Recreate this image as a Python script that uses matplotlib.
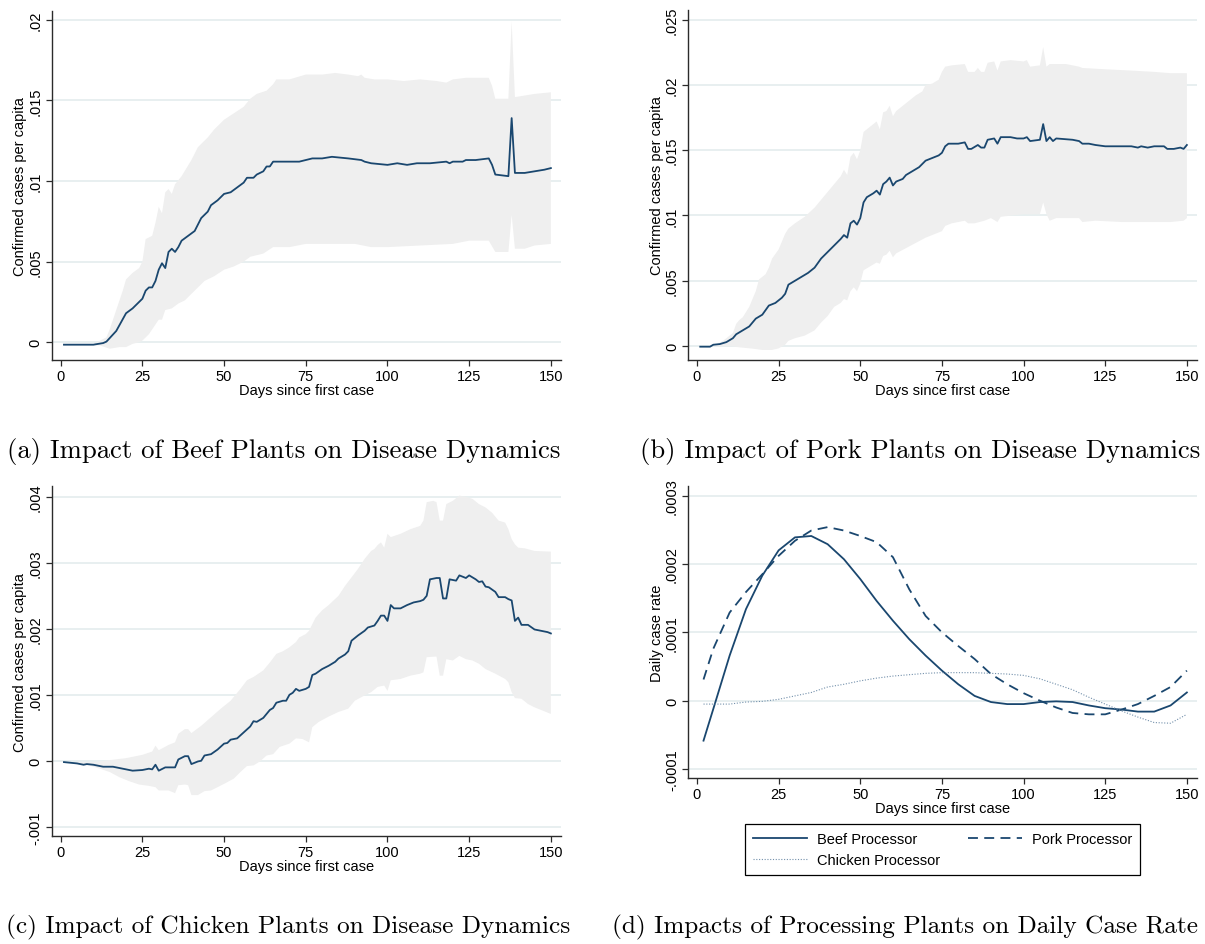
import matplotlib
matplotlib.use("Agg")
import matplotlib.pyplot as plt
import numpy as np

# ---- data -------------------------------------------------------------
days_ticks = [0, 25, 50, 75, 100, 125, 150]

# (a) beef plants
a_mean_days = [1, 10, 13, 14, 17, 20, 22, 24, 25, 26,
               27, 28, 29, 30, 31, 32, 33, 34, 35, 36,
               37, 39, 41, 43, 45, 46, 48, 50, 52, 54,
               56, 57, 59, 60, 62, 63, 64, 65, 70, 73,
               75, 77, 80, 83, 88, 92, 93, 95, 100, 103,
               106, 109, 113, 118, 119, 120, 123, 124, 127, 131,
               132, 133, 137, 138, 139, 142, 145, 148, 150]
a_mean = [-0.00015, -0.00015, -0.00005, 0.00004, 0.0007, 0.0018, 0.0021, 0.0025, 0.0027, 0.0032,
          0.0034, 0.0034, 0.0038, 0.0045, 0.0049, 0.0046, 0.0056, 0.0058, 0.0056, 0.0059,
          0.0063, 0.0066, 0.0069, 0.0077, 0.0081, 0.0085, 0.0088, 0.0092, 0.0093, 0.0096,
          0.0099, 0.0102, 0.0102, 0.0104, 0.0106, 0.0109, 0.0109, 0.0112, 0.0112, 0.0112,
          0.0113, 0.0114, 0.0114, 0.0115, 0.0114, 0.0113, 0.0112, 0.0111, 0.0110, 0.0111,
          0.0110, 0.0111, 0.0111, 0.0112, 0.0111, 0.0112, 0.0112, 0.0113, 0.0113, 0.0114,
          0.0110, 0.0104, 0.0103, 0.0139, 0.0105, 0.0105, 0.0106, 0.0107, 0.0108]
a_up_days = [1, 10, 12, 14, 15, 17, 19, 20, 22, 24,
             25, 26, 28, 29, 30, 31, 32, 33, 34, 35,
             37, 40, 42, 45, 47, 50, 53, 56, 58, 60,
             63, 65, 66, 70, 75, 80, 84, 88, 91, 92,
             93, 96, 100, 105, 110, 115, 118, 120, 124, 131,
             132, 133, 137, 138, 139, 145, 150]
a_up = [-0.0001, -0.0001, 0.0001, 0.0003, 0.0008, 0.0020, 0.0032, 0.0039, 0.0043, 0.0046,
        0.0050, 0.0064, 0.0066, 0.0074, 0.0084, 0.0080, 0.0093, 0.0095, 0.0092, 0.0098,
        0.0103, 0.0113, 0.0121, 0.0127, 0.0132, 0.0138, 0.0142, 0.0146, 0.0151, 0.0154,
        0.0156, 0.0160, 0.0163, 0.0163, 0.0166, 0.0166, 0.0167, 0.0166, 0.0165, 0.0166,
        0.0164, 0.0163, 0.0163, 0.0162, 0.0163, 0.0162, 0.0161, 0.0163, 0.0164, 0.0164,
        0.0159, 0.0151, 0.0151, 0.0199, 0.0152, 0.0154, 0.0155]
a_lo_days = [1, 10, 12, 15, 18, 20, 22, 24, 25, 27,
             29, 30, 31, 32, 34, 36, 38, 40, 42, 44,
             47, 50, 53, 56, 58, 62, 65, 70, 75, 80,
             90, 95, 100, 110, 120, 125, 131, 133, 137, 138,
             139, 142, 145, 150]
a_lo = [-0.0002, -0.0002, -0.0002, -0.0004, -0.0003, -0.0003, -0.0001, 0.0000, 0.0001, 0.0005,
        0.0011, 0.0014, 0.0014, 0.0020, 0.0021, 0.0024, 0.0026, 0.0030, 0.0034, 0.0038,
        0.0041, 0.0045, 0.0047, 0.0050, 0.0053, 0.0055, 0.0059, 0.0059, 0.0061, 0.0061,
        0.0061, 0.0059, 0.0059, 0.0060, 0.0061, 0.0063, 0.0063, 0.0056, 0.0056, 0.0079,
        0.0058, 0.0058, 0.0060, 0.0061]

# (b) pork plants
b_mean_days = [1, 4, 5, 7, 9, 11, 12, 14, 16, 18,
               20, 22, 24, 26, 27, 28, 30, 32, 34, 36,
               38, 40, 42, 44, 45, 46, 47, 48, 49, 50,
               51, 52, 54, 55, 56, 57, 58, 59, 60, 61,
               63, 64, 66, 68, 70, 72, 74, 75, 76, 77,
               80, 82, 83, 84, 86, 87, 88, 89, 91, 92,
               93, 96, 98, 100, 101, 102, 105, 106, 107, 108,
               109, 110, 115, 117, 118, 120, 122, 125, 130, 133,
               135, 136, 138, 140, 143, 144, 146, 148, 149, 150]
b_mean = [-0.00005, -0.00005, 0.0001, 0.00015, 0.0003, 0.0006, 0.0009, 0.0012, 0.0015, 0.0021,
          0.0024, 0.0031, 0.0033, 0.0037, 0.0040, 0.0047, 0.0050, 0.0053, 0.0056, 0.0060,
          0.0067, 0.0072, 0.0077, 0.0082, 0.0085, 0.0083, 0.0094, 0.0096, 0.0093, 0.0098,
          0.0110, 0.0114, 0.0117, 0.0119, 0.0116, 0.0124, 0.0126, 0.0129, 0.0123, 0.0126,
          0.0128, 0.0131, 0.0134, 0.0137, 0.0142, 0.0144, 0.0146, 0.0148, 0.0153, 0.0155,
          0.0155, 0.0156, 0.0151, 0.0151, 0.0154, 0.0152, 0.0152, 0.0158, 0.0159, 0.0155,
          0.0160, 0.0160, 0.0159, 0.0159, 0.0160, 0.0157, 0.0158, 0.0170, 0.0157, 0.0160,
          0.0157, 0.0159, 0.0158, 0.0157, 0.0155, 0.0155, 0.0154, 0.0153, 0.0153, 0.0153,
          0.0152, 0.0153, 0.0152, 0.0153, 0.0153, 0.0151, 0.0151, 0.0152, 0.0151, 0.0154]
b_up_days = [1, 5, 8, 11, 12, 13, 14, 16, 18, 19,
             20, 21, 22, 23, 25, 27, 28, 30, 33, 36,
             39, 42, 44, 45, 46, 47, 48, 49, 50, 51,
             53, 55, 56, 57, 58, 59, 60, 61, 63, 65,
             67, 69, 70, 72, 74, 75, 76, 78, 82, 83,
             85, 86, 87, 88, 89, 91, 92, 93, 96, 100,
             101, 102, 105, 106, 107, 108, 113, 117, 118, 125,
             133, 140, 145, 150]
b_up = [-0.00005, 0.0000, 0.0004, 0.0010, 0.0017, 0.0020, 0.0022, 0.0030, 0.0042, 0.0051,
        0.0053, 0.0055, 0.0060, 0.0067, 0.0074, 0.0086, 0.0090, 0.0094, 0.0099, 0.0106,
        0.0115, 0.0124, 0.0130, 0.0135, 0.0131, 0.0145, 0.0148, 0.0143, 0.0150, 0.0164,
        0.0168, 0.0172, 0.0166, 0.0179, 0.0180, 0.0184, 0.0176, 0.0180, 0.0184, 0.0188,
        0.0192, 0.0195, 0.0200, 0.0201, 0.0204, 0.0210, 0.0214, 0.0215, 0.0216, 0.0210,
        0.0210, 0.0213, 0.0210, 0.0210, 0.0217, 0.0218, 0.0211, 0.0218, 0.0219, 0.0218,
        0.0219, 0.0214, 0.0215, 0.0229, 0.0214, 0.0216, 0.0216, 0.0214, 0.0213, 0.0212,
        0.0211, 0.0210, 0.0209, 0.0209]
b_lo_days = [1, 5, 10, 13, 17, 20, 23, 25, 27, 28,
             30, 33, 36, 38, 40, 42, 44, 45, 46, 47,
             48, 49, 50, 51, 53, 55, 56, 57, 58, 59,
             60, 61, 64, 67, 70, 74, 75, 76, 78, 82,
             83, 85, 88, 90, 92, 93, 100, 105, 106, 107,
             108, 110, 117, 118, 122, 130, 140, 145, 149, 150]
b_lo = [-0.00005, -0.00005, 0.0000, -0.0001, -0.0002, -0.0003, -0.0003, -0.00018, 0.0001, 0.0004,
        0.0006, 0.0008, 0.0012, 0.0018, 0.0023, 0.0030, 0.0033, 0.0036, 0.0035, 0.0042,
        0.0045, 0.0042, 0.0048, 0.0058, 0.0061, 0.0064, 0.0063, 0.0069, 0.0070, 0.0073,
        0.0068, 0.0071, 0.0075, 0.0079, 0.0083, 0.0087, 0.0088, 0.0092, 0.0094, 0.0096,
        0.0094, 0.0094, 0.0096, 0.0098, 0.0095, 0.0099, 0.0101, 0.0101, 0.0110, 0.0101,
        0.0096, 0.0098, 0.0098, 0.0095, 0.0096, 0.0095, 0.0095, 0.0095, 0.0096, 0.0098]

# (c) chicken plants
c_mean_days = [1, 5, 7, 8, 10, 13, 16, 18, 20, 22,
               25, 27, 28, 29, 30, 32, 35, 36, 38, 39,
               40, 42, 43, 44, 46, 48, 50, 51, 52, 54,
               56, 58, 59, 60, 62, 64, 65, 66, 68, 69,
               70, 71, 72, 73, 75, 76, 77, 78, 80, 82,
               84, 85, 87, 88, 89, 91, 93, 94, 96, 97,
               98, 99, 100, 101, 102, 104, 106, 108, 110, 111,
               112, 113, 115, 116, 117, 118, 119, 121, 122, 123,
               124, 125, 127, 128, 129, 130, 131, 133, 134, 136,
               137, 138, 139, 140, 141, 143, 145, 147, 149, 150]
c_mean = [-0.00002, -0.00004, -0.00006, -0.00005, -0.00006, -0.00009, -0.00009, -0.00011, -0.00013, -0.00015,
          -0.00014, -0.00012, -0.00013, -0.00006, -0.00015, -0.00010, -0.00010, 0.00002, 0.00007, 0.00007,
          -0.00005, -0.00001, 0.00000, 0.00008, 0.00010, 0.00017, 0.00026, 0.00027, 0.00032, 0.00034,
          0.00043, 0.00052, 0.00060, 0.00059, 0.00065, 0.00077, 0.00080, 0.00088, 0.00091, 0.00091,
          0.00100, 0.00103, 0.00109, 0.00106, 0.00109, 0.00112, 0.00130, 0.00132, 0.00139, 0.00144,
          0.00150, 0.00155, 0.00161, 0.00166, 0.00182, 0.00190, 0.00197, 0.00202, 0.00205, 0.00212,
          0.00220, 0.00220, 0.00212, 0.00236, 0.00231, 0.00231, 0.00236, 0.00240, 0.00242, 0.00244,
          0.00250, 0.00275, 0.00277, 0.00277, 0.00246, 0.00246, 0.00275, 0.00273, 0.00281, 0.00279,
          0.00277, 0.00281, 0.00275, 0.00271, 0.00272, 0.00264, 0.00263, 0.00256, 0.00248, 0.00248,
          0.00245, 0.00243, 0.00212, 0.00217, 0.00206, 0.00206, 0.00199, 0.00197, 0.00195, 0.00193]
c_up_days = [1, 10, 15, 20, 25, 28, 29, 30, 33, 35,
             36, 38, 39, 40, 43, 46, 49, 52, 55, 57,
             59, 62, 64, 66, 68, 70, 72, 73, 75, 76,
             78, 80, 82, 85, 87, 89, 91, 93, 95, 96,
             97, 98, 99, 100, 101, 104, 107, 110, 111, 112,
             114, 115, 116, 117, 118, 120, 122, 124, 126, 128,
             130, 132, 134, 136, 137, 138, 139, 140, 142, 145,
             150]
c_up = [-0.00002, -0.00002, 0.00001, 0.00004, 0.00009, 0.00014, 0.00023, 0.00016, 0.00024, 0.00028,
        0.00041, 0.00048, 0.00048, 0.00042, 0.00053, 0.00066, 0.00079, 0.00091, 0.00109, 0.00122,
        0.00127, 0.00137, 0.00149, 0.00162, 0.00166, 0.00172, 0.00180, 0.00187, 0.00192, 0.00197,
        0.00217, 0.00228, 0.00236, 0.00250, 0.00265, 0.00278, 0.00291, 0.00306, 0.00318, 0.00321,
        0.00327, 0.00331, 0.00323, 0.00344, 0.00339, 0.00344, 0.00351, 0.00356, 0.00364, 0.00392,
        0.00394, 0.00392, 0.00364, 0.00364, 0.00389, 0.00394, 0.00402, 0.00400, 0.00397, 0.00389,
        0.00384, 0.00376, 0.00364, 0.00361, 0.00351, 0.00336, 0.00328, 0.00323, 0.00322, 0.00318,
        0.00317]
c_lo_days = [1, 8, 12, 15, 18, 21, 24, 27, 29, 30,
             33, 35, 36, 38, 39, 40, 42, 44, 46, 48,
             50, 53, 55, 57, 59, 61, 63, 65, 67, 70,
             72, 74, 76, 77, 79, 82, 85, 88, 90, 93,
             95, 97, 99, 100, 101, 104, 107, 110, 111, 112,
             115, 116, 117, 118, 120, 122, 124, 126, 128, 130,
             133, 136, 137, 138, 139, 141, 143, 145, 148, 150]
c_lo = [-0.00002, -0.00006, -0.00012, -0.00017, -0.00025, -0.00031, -0.00036, -0.00038, -0.00040, -0.00045,
        -0.00045, -0.00049, -0.00037, -0.00036, -0.00037, -0.00052, -0.00052, -0.00046, -0.00045, -0.00040,
        -0.00035, -0.00027, -0.00017, -0.00008, -0.00007, -0.00001, 0.00008, 0.00010, 0.00021, 0.00026,
        0.00034, 0.00033, 0.00028, 0.00051, 0.00059, 0.00067, 0.00074, 0.00079, 0.00091, 0.00099,
        0.00104, 0.00112, 0.00114, 0.00106, 0.00122, 0.00124, 0.00129, 0.00132, 0.00134, 0.00157,
        0.00158, 0.00129, 0.00129, 0.00154, 0.00152, 0.00159, 0.00154, 0.00152, 0.00147, 0.00139,
        0.00132, 0.00124, 0.00119, 0.00104, 0.00095, 0.00094, 0.00086, 0.00081, 0.00075, 0.00071]

# (d) daily case rate by processor type
d_days = [2, 5, 10, 15, 20, 25, 30, 35, 40, 45, 50, 55, 60, 65, 70, 75,
          80, 85, 90, 95, 100, 105, 110, 115, 120, 125, 130, 135, 140, 145, 150]
d_beef = [-0.0000585, -0.000012, 0.000066, 0.000134, 0.000183, 0.000220, 0.000239, 0.000241,
          0.000229, 0.000207, 0.000178, 0.000146, 0.000117, 0.000090, 0.000066, 0.000044,
          0.000024, 0.000007, -0.000002, -0.000005, -0.000005, -0.000002, -0.000001, -0.000002,
          -0.000007, -0.000011, -0.000013, -0.000016, -0.000016, -0.000007, 0.000012]
d_pork = [0.000031, 0.000076, 0.000129, 0.000159, 0.000185, 0.000212, 0.000234, 0.000249,
          0.000254, 0.000249, 0.000241, 0.000232, 0.000210, 0.000163, 0.000124, 0.000100,
          0.000080, 0.000061, 0.000039, 0.000024, 0.000011, 0.000000, -0.000010, -0.000018,
          -0.000020, -0.000020, -0.000013, -0.000005, 0.000007, 0.000020, 0.000044]
d_chicken = [-0.000005, -0.000005, -0.000005, -0.000002, -0.000001, 0.000002, 0.000007, 0.000012,
             0.000020, 0.000024, 0.000029, 0.000033, 0.000036, 0.000038, 0.000040, 0.000041,
             0.000041, 0.000041, 0.000040, 0.000039, 0.000037, 0.000032, 0.000024, 0.000016,
             0.000005, -0.000005, -0.000015, -0.000024, -0.000032, -0.000033, -0.000020]

a_yticks = [0, 0.005, 0.01, 0.015, 0.02]
a_ylabels = ['0', '.005', '.01', '.015', '.02']
b_yticks = [0, 0.005, 0.01, 0.015, 0.02, 0.025]
b_ylabels = ['0', '.005', '.01', '.015', '.02', '.025']
c_yticks = [-0.001, 0, 0.001, 0.002, 0.003, 0.004]
c_ylabels = ['-.001', '0', '.001', '.002', '.003', '.004']
d_yticks = [-0.0001, 0, 0.0001, 0.0002, 0.0003]
d_ylabels = ['-.0001', '0', '.0001', '.0002', '.0003']

captions = ['(a) Impact of Beef Plants on Disease Dynamics',
            '(b) Impact of Pork Plants on Disease Dynamics',
            '(c) Impact of Chicken Plants on Disease Dynamics',
            '(d) Impacts of Processing Plants on Daily Case Rate']

# ---- style ------------------------------------------------------------
NAVY = '#1a476f'
BAND = '#efefef'
GRID = '#e6eeef'
FS = 10.5
plt.rcParams['font.family'] = ['Liberation Sans', 'DejaVu Sans']
plt.rcParams['font.size'] = FS

W, H = 1205, 945
fig = plt.figure(figsize=(W / 100, H / 100), dpi=100)


def px_axes(left, top, right, bottom):
    return fig.add_axes([left / W, 1 - bottom / H, (right - left) / W, (bottom - top) / H])


def style_axes(ax, yticks, ylabels, ylim, ylabel):
    ax.set_xlim(-2.75, 153.1)
    ax.set_ylim(*ylim)
    ax.set_xticks(days_ticks)
    ax.set_yticks(yticks)
    ax.set_yticklabels(ylabels, rotation=90, va='center')
    for s in ['top', 'right']:
        ax.spines[s].set_visible(False)
    for s in ['left', 'bottom']:
        ax.spines[s].set_color('#2b2b2b')
        ax.spines[s].set_linewidth(1.0)
    ax.tick_params(direction='out', length=4, width=0.9, color='#2b2b2b', labelsize=FS, pad=2.5)
    ax.yaxis.grid(True, color=GRID, linewidth=1.3)
    ax.set_axisbelow(True)
    ax.set_xlabel('Days since first case', labelpad=0)
    ax.set_ylabel(ylabel, labelpad=1)


def band_panel(ax, md, m, ud, u, ld, lo):
    xs = np.concatenate([ud, ld[::-1]])
    ys = np.concatenate([u, lo[::-1]])
    ax.fill(xs, ys, color=BAND, linewidth=0, zorder=1)
    ax.plot(md, m, color=NAVY, linewidth=1.3, zorder=3)


ax_a = px_axes(51.7, 11.7, 561, 361)
band_panel(ax_a, a_mean_days, a_mean, a_up_days, a_up, a_lo_days, a_lo)
style_axes(ax_a, a_yticks, a_ylabels, (-0.0011, 0.02056), 'Confirmed cases per capita')

ax_b = px_axes(688, 11, 1197, 361)
band_panel(ax_b, b_mean_days, b_mean, b_up_days, b_up, b_lo_days, b_lo)
style_axes(ax_b, b_yticks, b_ylabels, (-0.00107, 0.02574), 'Confirmed cases per capita')

ax_c = px_axes(51.7, 487.3, 561, 837)
band_panel(ax_c, c_mean_days, c_mean, c_up_days, c_up, c_lo_days, c_lo)
style_axes(ax_c, c_yticks, c_ylabels, (-0.00114, 0.00416), 'Confirmed cases per capita')

ax_d = px_axes(688, 486.7, 1197, 779.3)
l_beef, = ax_d.plot(d_days, d_beef, color=NAVY, linewidth=1.3, label='Beef Processor')
l_pork, = ax_d.plot(d_days, d_pork, color=NAVY, linewidth=1.3, linestyle=(0, (5.5, 3.5)),
                    label='Pork Processor')
l_chick, = ax_d.plot(d_days, d_chicken, color='#7390ab', linewidth=0.8, linestyle=(0, (1, 1.5)),
                     label='Chicken Processor')
style_axes(ax_d, d_yticks, d_ylabels, (-0.0001136, 0.0003146), 'Daily case rate')

leg = fig.legend(handles=[l_beef, l_chick, l_pork], ncol=2, loc='upper left',
                 bbox_to_anchor=(745 / W, 1 - 825 / H), fontsize=FS, frameon=True,
                 fancybox=False, edgecolor='black', framealpha=1, borderaxespad=0,
                 handlelength=3.7, columnspacing=1.9, handletextpad=0.7,
                 borderpad=0.55, labelspacing=0.5)
leg.get_frame().set_linewidth(0.9)

# bottom captions are slightly smaller so they stay inside the canvas
cap_pos = [(284, 452, 19.2), (920, 452, 19.2), (288, 927, 18.2), (905, 927, 18.2)]
for (cx, cy, fs), txt in zip(cap_pos, captions):
    fig.text(cx / W, 1 - cy / H, txt, ha='center', va='center',
             family='cmr10', fontsize=fs)

fig.savefig('out.png', dpi=100)
